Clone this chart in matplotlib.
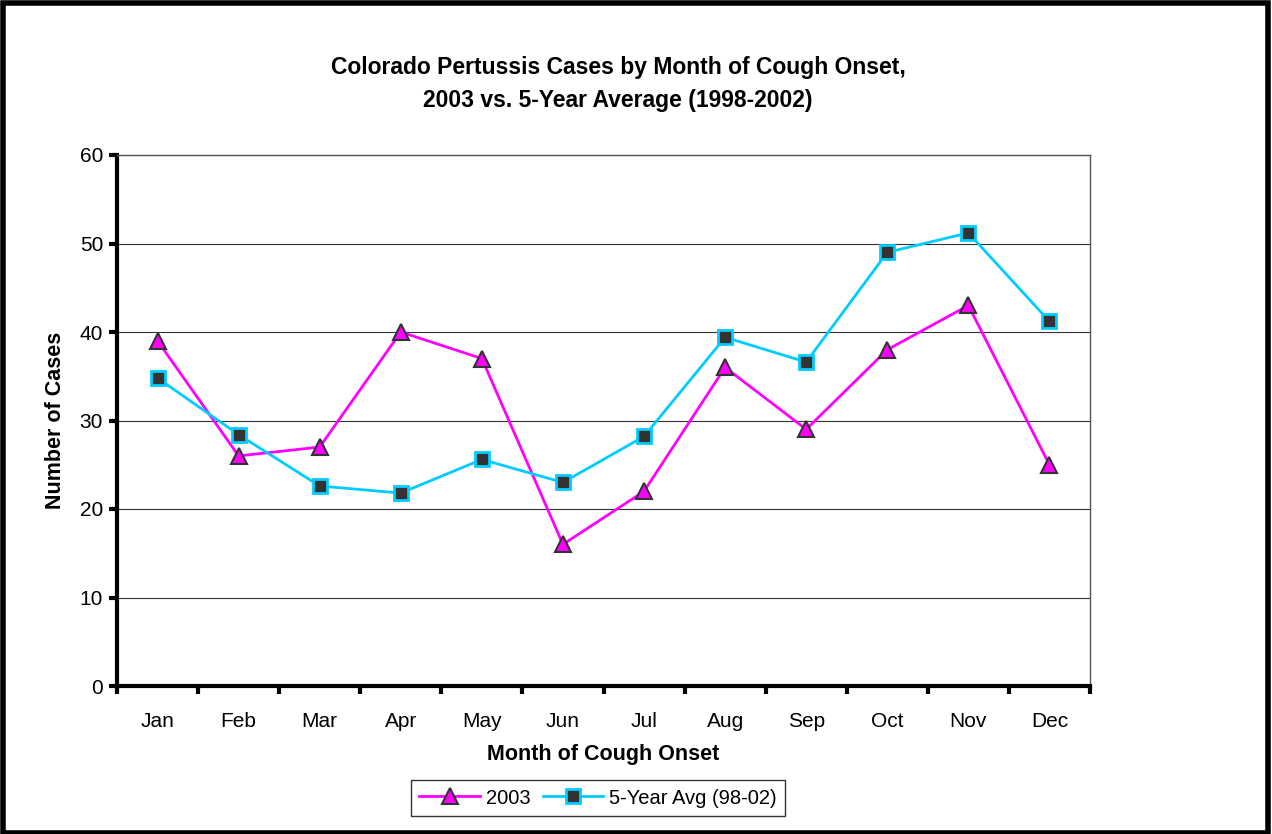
import matplotlib.pyplot as plt
from matplotlib.patches import Rectangle

months = ['Jan', 'Feb', 'Mar', 'Apr', 'May', 'Jun', 'Jul', 'Aug', 'Sep', 'Oct', 'Nov', 'Dec']
cases_2003 = [39, 26, 27, 40, 37, 16, 22, 36, 29, 38, 43, 25]
avg_98_02 = [34.8, 28.4, 22.6, 21.8, 25.6, 23.0, 28.2, 39.4, 36.6, 49.0, 51.2, 41.2]

plt.rcParams['font.family'] = ['Liberation Sans', 'DejaVu Sans']

fig = plt.figure(figsize=(12.72, 8.34), dpi=100)
ax = fig.add_axes([117 / 1272, 1 - 686 / 834, 973 / 1272, 531 / 834])

x = range(len(months))
ax.plot(x, cases_2003, color='#ff00ff', linewidth=2, marker='^', markersize=11,
        markerfacecolor='#ff00ff', markeredgecolor='#333333', markeredgewidth=1.5,
        label='2003', zorder=3)
ax.plot(x, avg_98_02, color='#00ccff', linewidth=2, marker='s', markersize=10,
        markerfacecolor='#333333', markeredgecolor='#00ccff', markeredgewidth=2,
        label='5-Year Avg (98-02)', zorder=3)

ax.set_xlim(-0.5, 11.5)
ax.set_ylim(0, 60)
ax.set_yticks(range(0, 61, 10))
ax.yaxis.grid(True, color='#333333', linewidth=0.8)
ax.set_axisbelow(True)

# category boundaries get the tick marks, labels sit between them
ax.set_xticks([i + 0.5 for i in range(-1, 12)], minor=False)
ax.set_xticklabels([])
ax.set_xticks(list(x), minor=True)
ax.set_xticklabels(months, minor=True, fontsize=15)
ax.tick_params(axis='x', which='minor', length=0, pad=19)
ax.tick_params(axis='x', which='major', direction='out', length=6, width=3)
ax.tick_params(axis='y', direction='out', length=6, width=3, labelsize=15, pad=4)

for side in ['left', 'bottom']:
    ax.spines[side].set_linewidth(3)
    ax.spines[side].set_color('black')
for side in ['top', 'right']:
    ax.spines[side].set_linewidth(1)
    ax.spines[side].set_color('#555555')

ax.set_xlabel('Month of Cough Onset', fontsize=15.5, fontweight='bold', labelpad=9)
ax.set_ylabel('Number of Cases', fontsize=15.5, fontweight='bold', labelpad=10)

fig.text(618 / 1272, 1 - 84 / 834, 'Colorado Pertussis Cases by Month of Cough Onset,\n2003 vs. 5-Year Average (1998-2002)',
         ha='center', va='center', fontsize=16.5, fontweight='bold', linespacing=1.55)

leg = fig.legend(loc='center', bbox_to_anchor=(598 / 1272, 1 - 798 / 834), ncol=2,
                 fontsize=14.5, frameon=True, fancybox=False, edgecolor='black',
                 handlelength=3.0, columnspacing=0.6, handletextpad=0.3, borderpad=0.4)
leg.get_frame().set_linewidth(1)

fig.patches.append(Rectangle((0.002, 0.001), 0.995, 0.995, transform=fig.transFigure,
                             fill=False, edgecolor='black', linewidth=4))

fig.savefig('out.png', dpi=100)
